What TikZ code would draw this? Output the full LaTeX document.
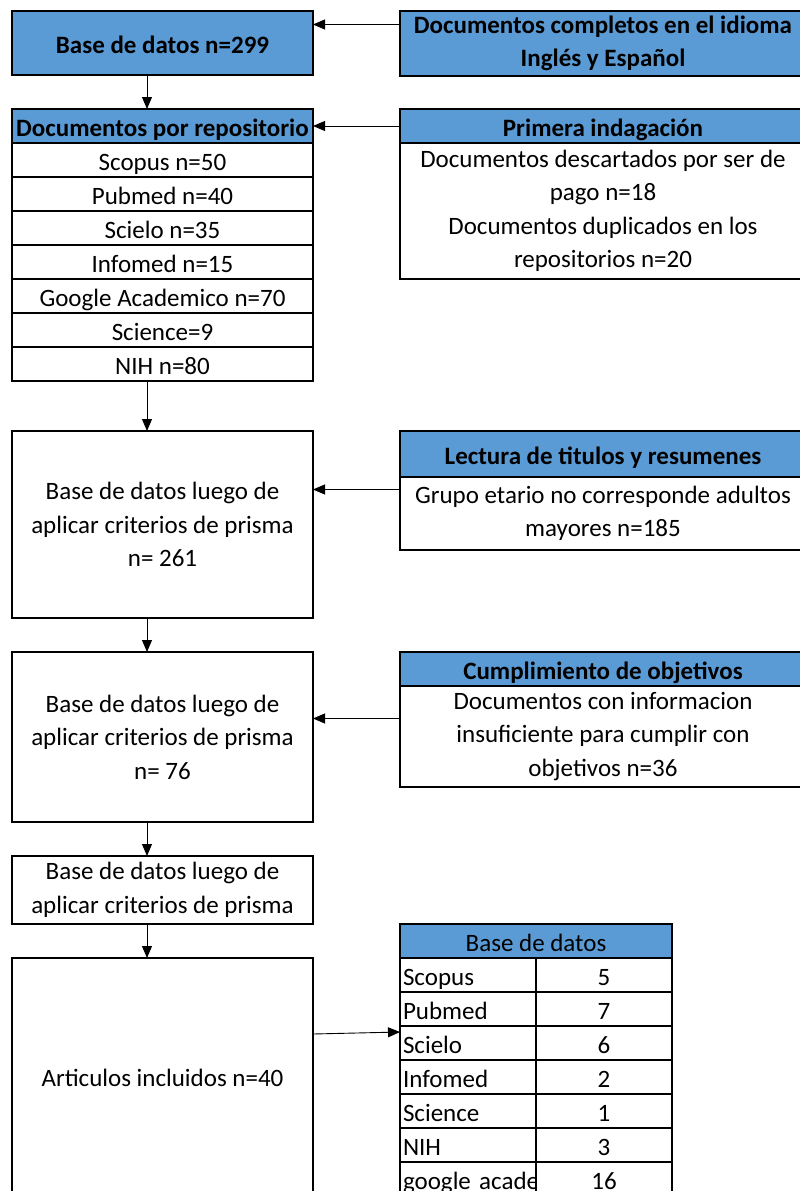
\documentclass[tikz,border=0pt]{standalone}
\usepackage{fontspec}
\setmainfont{Carlito}
\usepackage{tikz}
\usetikzlibrary{arrows.meta}
\usetikzlibrary{positioning}
\usetikzlibrary{calc}
\definecolor{excelblue}{RGB}{91,155,213}
\newcommand{\boxfont}{\fontsize{25}{33.5}\selectfont}
\tikzstyle{block} = [draw, line width=1.5pt, rectangle, fill=white, align=center, inner sep=0pt, outer sep=0pt, minimum width=301pt, font=\boxfont]
\tikzstyle{oneline} = [text height=22pt, text depth=2pt]
\tikzstyle{head} = [block, oneline, fill=excelblue, font=\boxfont\bfseries]
\tikzstyle{item} = [block, oneline, minimum height=34pt]
\tikzstyle{side} = [block, minimum width=406pt]
\tikzstyle{sidehead} = [side, fill=excelblue, font=\boxfont\bfseries]
\tikzstyle{cell} = [draw, line width=1.5pt, rectangle, fill=white, oneline, inner sep=0pt, outer sep=0pt, minimum width=136pt, minimum height=34pt, font=\boxfont]
\tikzstyle{namecell} = [cell, text width=130pt, align=left]
\tikzstyle{tabhead} = [cell, fill=excelblue, minimum width=272pt]

\begin{document}
\begin{tikzpicture}[x=1pt, y=-1pt, >={Triangle[length=12pt,width=10pt]}, line width=0.9pt]
\path [use as bounding box, clip] (0,0) rectangle (800,1191);
\coordinate (spine) at (147,0);

% Left column
\node [head, minimum height=64pt, anchor=north west] (base) at (12,11) {Base de datos n=299};
\node [head, minimum height=34pt, below=34pt of base] (repo) {Documentos por repositorio};
\node [item, below=0pt of repo] (scopus) {Scopus n=50};
\node [item, below=0pt of scopus] (pubmed) {Pubmed n=40};
\node [item, below=0pt of pubmed] (scielo) {Scielo n=35};
\node [item, below=0pt of scielo] (infomed) {Infomed n=15};
\node [item, below=0pt of infomed] (google) {Google Academico n=70};
\node [item, below=0pt of google] (science) {Science=9};
\node [item, below=0pt of science] (nih) {NIH n=80};
\node [block, minimum height=187pt, below=50pt of nih] (prisma1) {Base de datos luego de\\aplicar criterios de prisma\\n= 261};
\node [block, minimum height=170pt, below=34pt of prisma1] (prisma2) {Base de datos luego de\\aplicar criterios de prisma\\n= 76};
\node [block, minimum height=68pt, below=34pt of prisma2] (prisma3) {Base de datos luego de\\aplicar criterios de prisma};
\node [block, minimum height=240pt, below=34pt of prisma3] (incluidos) {Articulos incluidos n=40};

% Right column
\node [sidehead, minimum height=65pt, right=87pt of base.north east, anchor=north west] (idioma) {Documentos completos en el idioma\\Inglés y Español};
\node [sidehead, oneline, minimum height=34pt, right=87pt of repo] (indagacion) {Primera indagación};
\node [side, minimum height=136pt, below=0pt of indagacion] (pago) {Documentos descartados por ser de\\pago n=18\\Documentos duplicados en los\\repositorios n=20};
\node [sidehead, oneline, minimum height=46pt, right=87pt of prisma1.north east, anchor=north west] (lectura) {Lectura de titulos y resumenes};
\node [side, minimum height=73pt, below=0pt of lectura] (etario) {Grupo etario no corresponde adultos\\mayores n=185};
\node [sidehead, oneline, minimum height=34pt, right=87pt of prisma2.north east, anchor=north west] (objetivos) {Cumplimiento de objetivos};
\node [side, minimum height=101pt, below=0pt of objetivos] (insuf) {Documentos con informacion\\insuficiente para cumplir con\\objetivos n=36};

% Table
\node [tabhead, right=87pt of prisma3.south east, anchor=north west] (tabla) {Base de datos};
\node [namecell, below=0pt of tabla.south west, anchor=north west] (nscopus) {Scopus};
\node [namecell, below=0pt of nscopus] (npubmed) {Pubmed};
\node [namecell, below=0pt of npubmed] (nscielo) {Scielo};
\node [namecell, below=0pt of nscielo] (ninfomed) {Infomed};
\node [namecell, below=0pt of ninfomed] (nscience) {Science};
\node [namecell, below=0pt of nscience] (nnih) {NIH};
\node [namecell, below=0pt of nnih] (ngoogle) {\mbox{google academico}};
\node [cell, right=0pt of nscopus] (vscopus) {5};
\node [cell, right=0pt of npubmed] (vpubmed) {7};
\node [cell, right=0pt of nscielo] (vscielo) {6};
\node [cell, right=0pt of ninfomed] (vinfomed) {2};
\node [cell, right=0pt of nscience] (vscience) {1};
\node [cell, right=0pt of nnih] (vnih) {3};
\node [cell, right=0pt of ngoogle] (vgoogle) {16};

% Down the spine
\draw [->] (base.south -| spine) -- (repo.north -| spine);
\draw [->] (nih.south -| spine) -- (prisma1.north -| spine);
\draw [->] (prisma1.south -| spine) -- (prisma2.north -| spine);
\draw [->] (prisma2.south -| spine) -- (prisma3.north -| spine);
\draw [->] (prisma3.south -| spine) -- (incluidos.north -| spine);

% From the side boxes
\draw [->] ([yshift=19pt]idioma.west) -- ([yshift=19pt]idioma.west -| base.east);
\draw [->] (indagacion.west) -- (repo.east);
\draw [->] ([yshift=24pt]etario.west) -- ([yshift=24pt]etario.west -| prisma1.east);
\draw [->] ([yshift=18pt]insuf.west) -- ([yshift=18pt]insuf.west -| prisma2.east);
\draw [->] ([yshift=44pt]incluidos.east) -- ([yshift=-6pt]nscielo.north west);
\end{tikzpicture}
\end{document}
